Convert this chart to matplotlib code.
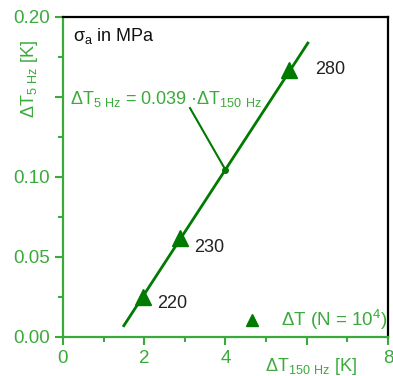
import numpy as np
import matplotlib.pyplot as plt

plt.rcParams['font.family'] = ['Liberation Sans', 'DejaVu Sans']
plt.rcParams['mathtext.default'] = 'regular'

# data
dt150 = [1.97, 2.88, 5.57]
dt5 = [0.025, 0.062, 0.167]
stress = ['220', '230', '280']
fit_x = [1.5, 6.03]
slope = 0.039
intercept = -0.0515

dark = '#007a00'
txt = '#3aaa3a'

fig = plt.figure(figsize=(3.93, 3.76), dpi=100)
ax = fig.add_axes([0.160, 0.104, 0.827, 0.851])

fx = np.array(fit_x)
ax.plot(fx, slope * fx + intercept, color=dark, lw=2)
ax.plot(dt150, dt5, ls='none', marker='^', ms=12, color=dark)

offs = [(0.35, -0.004), (0.35, -0.006), (0.65, 0.0)]
for x, y, s, (dx, dy) in zip(dt150, dt5, stress, offs):
    ax.text(x + dx, y + dy, s, fontsize=13, color='#222222', va='center')

# annotation of the fit
xd = 4.0
yd = slope * xd + intercept
ax.plot([xd], [yd], marker='o', ms=4, color=dark)
ax.plot([3.13, xd], [0.143, yd], color=dark, lw=1.5)
ax.text(0.18, 0.149, 'ΔT$_{5\\ Hz}$ = 0.039 ·ΔT$_{150\\ Hz}$',
        fontsize=13, color=txt, va='center')

ax.text(0.25, 0.188, 'σ$_{a}$ in MPa', fontsize=13, color='#111111', va='center')

# legend
ax.plot([4.65], [0.0105], marker='^', ms=8, color=dark, ls='none')
ax.text(5.36, 0.0105, 'ΔT (N = 10$^{4}$)', fontsize=13.5, color=txt, va='center')

ax.set_xlim(0, 8)
ax.set_ylim(0, 0.20)
ax.set_xticks([0, 2, 4, 6, 8])
ax.set_xticklabels(['0', '2', '4', '', '8'])
ax.set_xticks([1, 3, 5, 7], minor=True)
ax.set_yticks([0, 0.05, 0.10, 0.15, 0.20])
ax.set_yticklabels(['0.00', '0.05', '0.10', '', '0.20'])
ax.set_yticks([0.025, 0.075, 0.125, 0.175], minor=True)
ax.tick_params(which='major', length=6, width=1.5, color=txt, labelcolor=txt, labelsize=13.5)
ax.tick_params(which='minor', length=3.5, width=1.5, color=txt)

for s in ['left', 'bottom']:
    ax.spines[s].set_color(txt)
    ax.spines[s].set_linewidth(1.6)
for s in ['top', 'right']:
    ax.spines[s].set_color('black')
    ax.spines[s].set_linewidth(1.6)

ax.text(6.1, -0.0213, 'ΔT$_{150\\ Hz}$ [K]', fontsize=13, color=txt,
        ha='center', va='baseline')
fig.text(0.075, 0.79, 'ΔT$_{5\\ Hz}$ [K]', fontsize=13, color=txt,
         rotation=90, ha='center', va='center')

fig.savefig('out.png', dpi=100)
